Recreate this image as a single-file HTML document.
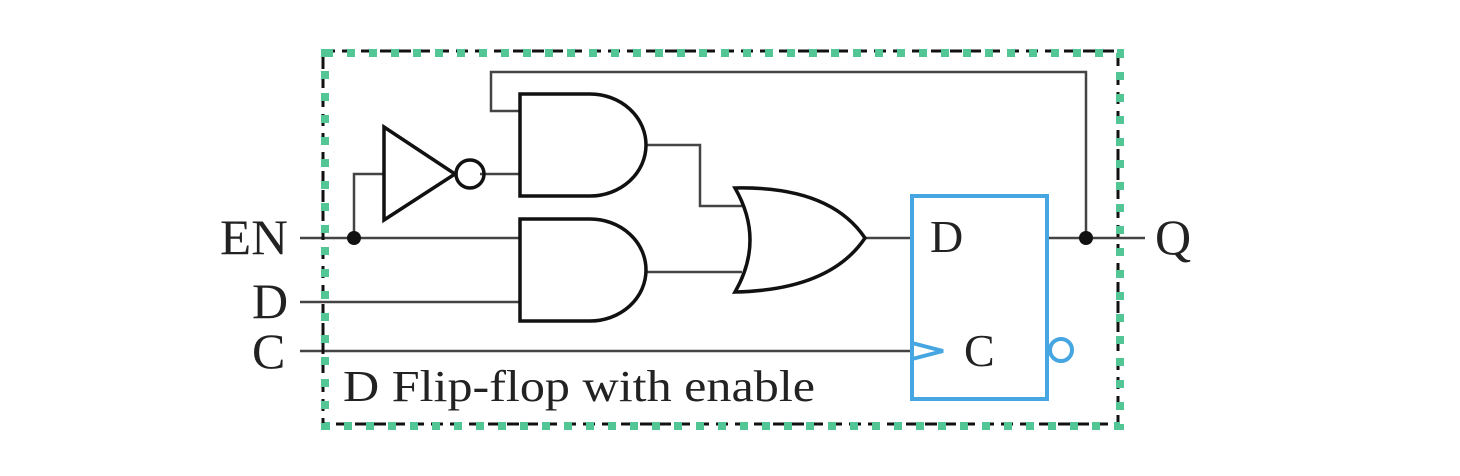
<!DOCTYPE html>
<html><head><style>html,body{margin:0;padding:0;background:#fff;}svg{display:block;}</style></head>
<body>
<svg width="1460" height="476" viewBox="0 0 1460 476" xmlns="http://www.w3.org/2000/svg">
<g fill="none" stroke="#444" stroke-width="2.5">
<path d="M300 238H520M300 302H520M300 351H912"/>
<path d="M354 238V174H384"/>
<path d="M480 174H520"/>
<path d="M520 111H491V72H1086V238"/>
<path d="M646 145H700V206H742"/>
<path d="M646 272H742"/>
<path d="M865 238H912"/>
<path d="M1047 238H1145"/>
</g>
<g fill="none" stroke="#111" stroke-width="3.5">
<path d="M520 94H590A56 51 0 0 1 590 196H520Z"/>
<path d="M520 219H590A56 51 0 0 1 590 321H520Z"/>
<path d="M384 127L455 174L384 220Z"/>
<circle cx="470" cy="174" r="14"/>
<path d="M735 188Q830 186 865 238Q830 290 735 292Q765 240 735 188Z"/>
</g>
<circle cx="354" cy="238" r="7" fill="#111"/>
<circle cx="1086" cy="238" r="7" fill="#111"/>
<g fill="none" stroke="#46a6e2" stroke-width="4">
<rect x="912" y="196" width="135" height="203"/>
<path d="M912 343L943 351L912 359"/>
<circle cx="1061" cy="350" r="11"/>
</g>
<rect x="323" y="51" width="795" height="373" fill="none" stroke="#111" stroke-width="3" stroke-dasharray="12 7"/>
<rect x="325" y="53" width="795" height="373" fill="none" stroke="#52c795" stroke-width="8" stroke-dasharray="8 14"/>
<g font-family="Liberation Serif, serif" fill="#222" font-size="50">
<text x="220" y="254" textLength="68" lengthAdjust="spacingAndGlyphs">EN</text>
<text x="252" y="318">D</text>
<text x="252" y="368">C</text>
<text x="1155" y="254">Q</text>
<text x="930" y="252" font-size="46">D</text>
<text x="964" y="366" font-size="46">C</text>
<text x="343" y="401" font-size="44" textLength="472" lengthAdjust="spacingAndGlyphs">D Flip-flop with enable</text>
</g>
</svg>
</body></html>
